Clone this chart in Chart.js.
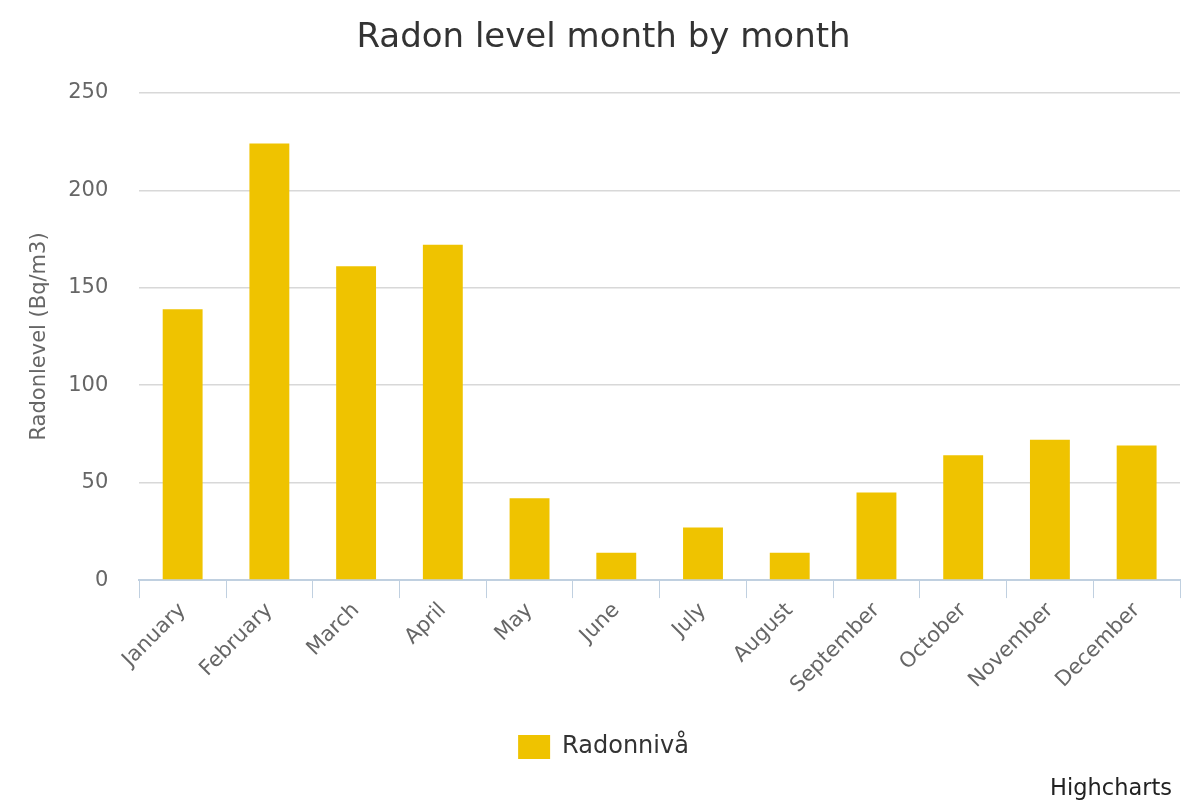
<!DOCTYPE html>
<html>
<head>
<meta charset="utf-8">
<script src="https://cdn.jsdelivr.net/npm/chart.js@4.4.1/dist/chart.umd.min.js"></script>
<style>
  html, body { margin: 0; padding: 0; background: #fff; }
  #wrap { position: relative; width: 1200px; height: 800px; }
  #credits { position: absolute; right: 28px; bottom: 0px; font: 22.5px "DejaVu Sans", sans-serif; color: #222; }
</style>
</head>
<body>
<div id="wrap">
  <canvas id="chart" width="1200" height="800"></canvas>
  <div id="credits">Highcharts</div>
</div>
<script>
const months = ['January', 'February', 'March', 'April', 'May', 'June', 'July', 'August', 'September', 'October', 'November', 'December'];
const radon = [139, 224, 161, 172, 42, 14, 27, 14, 45, 64, 72, 69];
const yTicks = [0, 50, 100, 150, 200, 250];

const font = 'DejaVu Sans';

new Chart(document.getElementById('chart').getContext('2d'), {
    type: 'bar',
    data: {
        labels: months,
        datasets: [{
            label: 'Radonnivå',
            data: radon,
            backgroundColor: '#efc300',
            borderWidth: 0,
            barPercentage: 0.46,
            categoryPercentage: 1
        }]
    },
    options: {
        responsive: false,
        animation: false,
        layout: { padding: { left: 27, right: 20, top: 14, bottom: 31 } },
        plugins: {
            title: {
                display: true,
                text: 'Radon level month by month',
                color: '#333',
                font: { family: font, size: 34, weight: 'normal' },
                padding: { top: 4, bottom: 34 }
            },
            legend: {
                position: 'bottom',
                labels: {
                    color: '#333',
                    font: { family: font, size: 24 },
                    boxWidth: 32,
                    boxHeight: 24,
                    padding: 37
                }
            },
            tooltip: { enabled: false }
        },
        scales: {
            x: {
                grid: {
                    offset: true,
                    drawOnChartArea: false,
                    drawTicks: true,
                    tickLength: 18,
                    color: '#c0d0e0'
                },
                border: { color: '#c0d0e0', width: 2 },
                ticks: {
                    color: '#666',
                    font: { family: font, size: 21 },
                    minRotation: 45,
                    maxRotation: 45,
                    padding: 0
                }
            },
            y: {
                min: 0,
                max: 250,
                afterBuildTicks: function (axis) {
                    axis.ticks = yTicks.map(function (v) { return { value: v }; });
                },
                grid: { color: '#d8d8d8', drawTicks: true, tickLength: 25, tickColor: 'rgba(0,0,0,0)', lineWidth: 1.5 },
                border: { display: false },
                ticks: {
                    color: '#666',
                    font: { family: font, size: 21 },
                    padding: 6
                },
                title: {
                    display: true,
                    text: 'Radonlevel (Bq/m3)',
                    color: '#666',
                    font: { family: font, size: 21 },
                    padding: { top: 0, bottom: 10 }
                }
            }
        }
    }
});
</script>
</body>
</html>
